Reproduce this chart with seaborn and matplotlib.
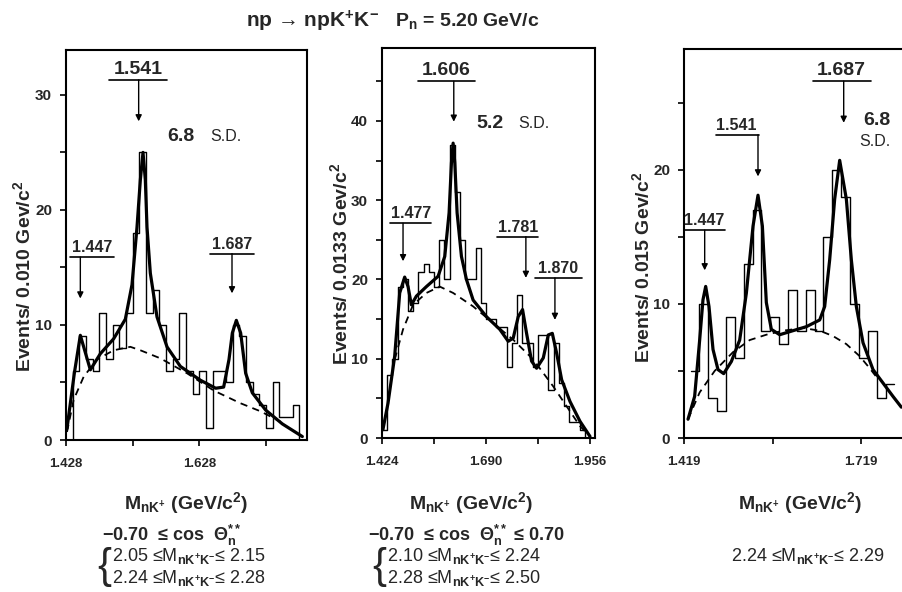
import matplotlib
matplotlib.use("Agg")
import matplotlib.pyplot as plt
from matplotlib import font_manager
import numpy as np
import pandas as pd
import seaborn as sns

# ---------------- data ----------------
p1_start, p1_bin = 1.428, 0.010
p1_counts = [0, 6, 9, 7, 6, 11, 7, 10, 8, 11, 18, 25, 11, 13, 10, 6, 7, 11, 6, 4,
             6, 1, 6, 6, 5, 10, 9, 5, 4, 3, 1, 5, 2, 2, 3, 0]
p1_fit_x = [1.4295, 1.4405, 1.4495, 1.4645, 1.4795, 1.4995, 1.5170, 1.5270, 1.5345,
            1.5395, 1.5435, 1.5470, 1.5495, 1.5545, 1.5645, 1.5795, 1.5995, 1.6295,
            1.6525, 1.6645, 1.6725, 1.6775, 1.6835, 1.6900, 1.6975, 1.7075, 1.7275,
            1.7525, 1.7825]
p1_fit_y = [1.0, 5.8, 9.1, 6.1, 7.5, 8.8, 10.5, 13.5, 18.5, 22.6, 25.0, 22.6, 18.5,
            14.5, 10.7, 8.1, 6.4, 5.2, 4.5, 4.6, 7.0, 9.3, 10.4, 9.3, 5.8, 4.1, 2.6,
            1.4, 0.3]
p1_bg_x = [1.4295, 1.4395, 1.4545, 1.4745, 1.4995, 1.5245, 1.5395, 1.5695, 1.6095,
           1.6495, 1.6895, 1.7195, 1.7495]
p1_bg_y = [0.7, 3.5, 5.5, 7.0, 7.8, 8.1, 7.8, 7.1, 5.8, 4.3, 3.2, 2.5, 1.6]

p2_start, p2_bin = 1.424, 0.0133
p2_counts = [1, 8, 10, 19, 20, 16, 17, 21, 22, 21, 19, 25, 20, 37, 31, 25, 20, 20, 24, 17,
             15, 15, 14, 14, 9, 12, 18, 12, 12, 9, 13, 13, 6, 12, 7, 4, 2, 2, 1, 0]
p2_fit_x = [1.4263, 1.4394, 1.4564, 1.4693, 1.4820, 1.4906, 1.4991, 1.5120, 1.5376,
            1.5675, 1.5845, 1.5956, 1.6016, 1.6059, 1.6102, 1.6161, 1.6272, 1.6400,
            1.6571, 1.6913, 1.7254, 1.7468, 1.7596, 1.7724, 1.7835, 1.7938, 1.8066,
            1.8194, 1.8365, 1.8493, 1.8596, 1.8707, 1.8835, 1.9049, 1.9305, 1.9560]
p2_fit_y = [1.05, 4.4, 10.3, 18.3, 20.3, 19.1, 16.8, 17.9, 19.1, 20.4, 22.9, 28.4, 34.7,
            37.2, 34.7, 28.4, 22.9, 20.0, 17.4, 15.3, 13.7, 12.2, 12.6, 15.3, 16.2, 13.2,
            9.7, 8.8, 10.1, 13.0, 13.2, 10.7, 7.35, 4.6, 2.1, 0.2]
p2_bg_x = [1.4564, 1.4778, 1.5034, 1.5376, 1.5717, 1.6059, 1.6571, 1.7084, 1.7596,
           1.8108, 1.8621, 1.8962, 1.9304, 1.9560]
p2_bg_y = [9.9, 13.7, 16.8, 18.3, 19.1, 18.3, 16.6, 14.5, 12.4, 9.9, 6.5, 4.0, 1.5, 0.2]

p3_start, p3_bin = 1.430, 0.015
p3_counts = [5, 10, 3, 2, 9, 6, 13, 17, 8, 9, 7, 11, 8, 11, 8, 15, 20, 18, 10, 6, 8, 3, 4]
p3_fit_x = [1.4258, 1.4370, 1.4455, 1.4511, 1.4557, 1.4613, 1.4681, 1.4765, 1.4861,
            1.4991, 1.5132, 1.5245, 1.5358, 1.5442, 1.5516, 1.5583, 1.5668, 1.5809,
            1.6034, 1.6260, 1.6486, 1.6570, 1.6655, 1.6739, 1.6824, 1.6937, 1.7021,
            1.7106, 1.7219, 1.7388, 1.7557, 1.7726, 1.7867]
p3_fit_y = [1.4, 3.1, 7.3, 10.3, 11.3, 9.8, 6.6, 5.1, 4.8, 5.7, 7.3, 10.8, 15.8, 18.1,
            15.8, 10.1, 8.1, 7.7, 8.0, 8.3, 8.8, 9.8, 13.3, 17.8, 20.7, 17.8, 13.3, 9.8,
            7.1, 5.1, 4.1, 3.1, 2.3]
p3_bg_x = [1.4258, 1.4455, 1.4709, 1.5019, 1.5301, 1.5583, 1.5865, 1.6203, 1.6486,
           1.6711, 1.6937, 1.7162, 1.7332, 1.7472]
p3_bg_y = [1.4, 3.4, 5.0, 6.4, 7.3, 7.7, 8.0, 8.2, 8.0, 7.6, 7.0, 6.1, 5.2, 4.4]

p1_peaks = ["1.541", "1.447", "1.687"]
p2_peaks = ["1.606", "1.477", "1.781", "1.870"]
p3_peaks = ["1.687", "1.541", "1.447"]
significance = ["6.8", "5.2", "6.8"]

p1_xticks = [1.428, 1.528, 1.628, 1.728]
p1_xticklabels = ["1.428", "", "1.628", ""]
p2_xticks = [1.424, 1.557, 1.690, 1.823, 1.956]
p2_xticklabels = ["1.424", "", "1.690", "", "1.956"]
p3_xticks = [1.419, 1.569, 1.719]
p3_xticklabels = ["1.419", "", "1.719"]

ylabels = ["Events/ 0.010 Gev/c$^{\\mathbf{2}}$", "Events/ 0.0133 Gev/c$^{\\mathbf{2}}$",
           "Events/ 0.015 Gev/c$^{\\mathbf{2}}$"]

# ---------------- style ----------------
sns.set_theme(style="ticks")
names = {f.name for f in font_manager.fontManager.ttflist}
narrow = "Liberation Sans Narrow" if "Liberation Sans Narrow" in names else "Liberation Sans"
plt.rcParams["font.family"] = ["Liberation Sans", "DejaVu Sans"]
plt.rcParams["mathtext.fontset"] = "custom"
plt.rcParams["mathtext.rm"] = "Liberation Sans"
plt.rcParams["mathtext.it"] = "Liberation Sans:italic"
plt.rcParams["mathtext.bf"] = "Liberation Sans:bold"

W, H = 902, 592
fig = plt.figure(figsize=(W / 100, H / 100), dpi=100)
fig.patch.set_facecolor("white")


def px_axes(l, r, t, b):
    return fig.add_axes([l / W, 1 - b / H, (r - l) / W, (b - t) / H])


def draw_panel(ax, start, width, counts, fx, fy, bx, by, xlim, ylim, xt, xtl):
    edges = [start + width * i for i in range(len(counts) + 1)]
    centers = [e + width / 2 for e in edges[:-1]]
    df = pd.DataFrame({"m": centers, "n": counts})
    sns.histplot(data=df, x="m", weights="n", bins=edges, element="step", fill=False,
                 color="black", linewidth=1.0, ax=ax)
    sns.lineplot(x=bx, y=by, color="black", linewidth=1.3, linestyle=(0, (4, 3)),
                 sort=False, ax=ax)
    sns.lineplot(x=fx, y=fy, color="black", linewidth=2.3, sort=False, ax=ax)
    ax.set_xlim(*xlim)
    ax.set_ylim(0, ylim)
    ax.set_xticks(xt)
    ax.set_xticklabels(xtl, fontsize=9.5, fontweight="bold", family=[narrow, "DejaVu Sans"])
    yt = list(range(0, int(ylim) + 1, 5))
    ax.set_yticks(yt)
    ax.set_yticklabels([str(v) if v % 10 == 0 else "" for v in yt], fontsize=11,
                       fontweight="bold")
    ax.tick_params(direction="out", length=4, width=1.2, color="black", pad=6)
    ax.tick_params(axis="x", pad=9)
    for s in ax.spines.values():
        s.set_visible(True)
        s.set_color("black")
        s.set_linewidth(1.5)
    ax.set_xlabel("")
    ax.set_ylabel("")
    ax.set_facecolor("white")


def peak(ax, text, tx, uy, x0, x1, axx, tip, fs):
    ax.annotate(text, xy=(tx, uy), xytext=(0, 1.5), textcoords="offset points",
                ha="center", va="bottom", fontsize=fs, fontweight="bold")
    ax.plot([x0, x1], [uy, uy], color="black", lw=1.2)
    ax.annotate("", xy=(axx, tip), xytext=(axx, uy),
                arrowprops=dict(arrowstyle="-|>", color="black", lw=1.0,
                                mutation_scale=9, shrinkA=0, shrinkB=0))


ax1 = px_axes(66, 307, 50, 440)
ax2 = px_axes(382, 595, 48, 438)
ax3 = px_axes(684, 907, 49, 438)

draw_panel(ax1, p1_start, p1_bin, p1_counts, p1_fit_x, p1_fit_y, p1_bg_x, p1_bg_y,
           (1.428, 1.7895), 33.9, p1_xticks, p1_xticklabels)
draw_panel(ax2, p2_start, p2_bin, p2_counts, p2_fit_x, p2_fit_y, p2_bg_x, p2_bg_y,
           (1.424, 1.9688), 49.2, p2_xticks, p2_xticklabels)
draw_panel(ax3, p3_start, p3_bin, p3_counts, p3_fit_x, p3_fit_y, p3_bg_x, p3_bg_y,
           (1.419, 1.7963), 29.0, p3_xticks, p3_xticklabels)

BIG, SMALL = 14, 11.5
# peak annotations
peak(ax1, p1_peaks[0], 1.537, 31.3, 1.492, 1.5795, 1.537, 27.7, BIG)
peak(ax1, p1_peaks[1], 1.467, 15.9, 1.4345, 1.4995, 1.4495, 12.3, SMALL)
peak(ax1, p1_peaks[2], 1.677, 16.2, 1.6445, 1.7095, 1.677, 12.75, SMALL)
ax1.text(1.5795, 26.4, significance[0], fontsize=14, fontweight="bold", va="center")
ax1.text(1.6445, 26.4, "S.D.", fontsize=11.5, va="center")

peak(ax2, p2_peaks[0], 1.5888, 45.0, 1.5162, 1.6614, 1.6076, 39.9, BIG)
peak(ax2, p2_peaks[1], 1.4991, 27.1, 1.4436, 1.5504, 1.4778, 22.3, SMALL)
peak(ax2, p2_peaks[2], 1.7724, 25.4, 1.7169, 1.8237, 1.792, 20.2, SMALL)
peak(ax2, p2_peaks[3], 1.8749, 20.2, 1.8151, 1.9347, 1.8663, 14.9, SMALL)
ax2.text(1.6657, 39.7, significance[1], fontsize=14, fontweight="bold", va="center")
ax2.text(1.7724, 39.7, "S.D.", fontsize=11.5, va="center")

peak(ax3, p3_peaks[0], 1.6852, 26.6, 1.6373, 1.7360, 1.6892, 23.5, BIG)
peak(ax3, p3_peaks[1], 1.5075, 22.6, 1.4726, 1.5459, 1.5442, 19.5, SMALL)
peak(ax3, p3_peaks[2], 1.454, 15.5, 1.4201, 1.4878, 1.454, 12.5, SMALL)
ax3.text(1.7219, 23.7, significance[2], fontsize=14, fontweight="bold", va="center")
ax3.text(1.7162, 22.1, "S.D.", fontsize=11.5, va="center")


def ftext(x, y, s, **kw):
    fig.text(x / W, 1 - y / H, s, **kw)


# y labels
for x, y, lab in [(23, 276, ylabels[0]), (340, 264, ylabels[1]), (642, 267, ylabels[2])]:
    ftext(x, y, lab, rotation=90, ha="center", va="center", fontsize=14,
          fontweight="bold", family=[narrow, "DejaVu Sans"])

# title
ftext(313, 21, "np \u2192 npK$^{\\mathbf{+}}$K$^{\\mathbf{-}}$", ha="center", va="center",
      fontsize=15, fontweight="bold")
ftext(467, 21, "P$_{\\mathbf{n}}$ = 5.20 GeV/c", ha="center", va="center",
      fontsize=14, fontweight="bold")

# x labels
xl = "M$_{\\mathbf{nK^{+}}}$ (GeV/c$^{\\mathbf{2}}$)"
for x in [186, 471, 800]:
    ftext(x, 503, xl, ha="center", va="center", fontsize=14, fontweight="bold",
          family=[narrow, "DejaVu Sans"])

# cut conditions
cond_kw = dict(fontsize=13, family=[narrow, "DejaVu Sans"])
sub = "$_{\\mathbf{nK^{+}K^{-}}}$"
ftext(172, 535, "\u22120.70  \u2264 cos  \u0398$_{\\mathbf{n}}^{\\mathbf{**}}$", ha="center",
      va="center", fontweight="bold", **cond_kw)
ftext(112, 556, "2.05 \u2264M" + sub + "\u2264 2.15", ha="left", va="center", **cond_kw)
ftext(112, 578, "2.24 \u2264M" + sub + "\u2264 2.28", ha="left", va="center", **cond_kw)
ftext(104, 567, "{", ha="center", va="center", fontsize=30, fontweight="light")

ftext(466, 535, "\u22120.70  \u2264 cos  \u0398$_{\\mathbf{n}}^{\\mathbf{**}}$ \u2264 0.70",
      ha="center", va="center", fontweight="bold", **cond_kw)
ftext(387, 556, "2.10 \u2264M" + sub + "\u2264 2.24", ha="left", va="center", **cond_kw)
ftext(387, 578, "2.28 \u2264M" + sub + "\u2264 2.50", ha="left", va="center", **cond_kw)
ftext(379, 567, "{", ha="center", va="center", fontsize=30, fontweight="light")

ftext(731, 556, "2.24 \u2264M" + sub + "\u2264 2.29", ha="left", va="center", **cond_kw)

fig.savefig("out.png", dpi=100, facecolor="white")
